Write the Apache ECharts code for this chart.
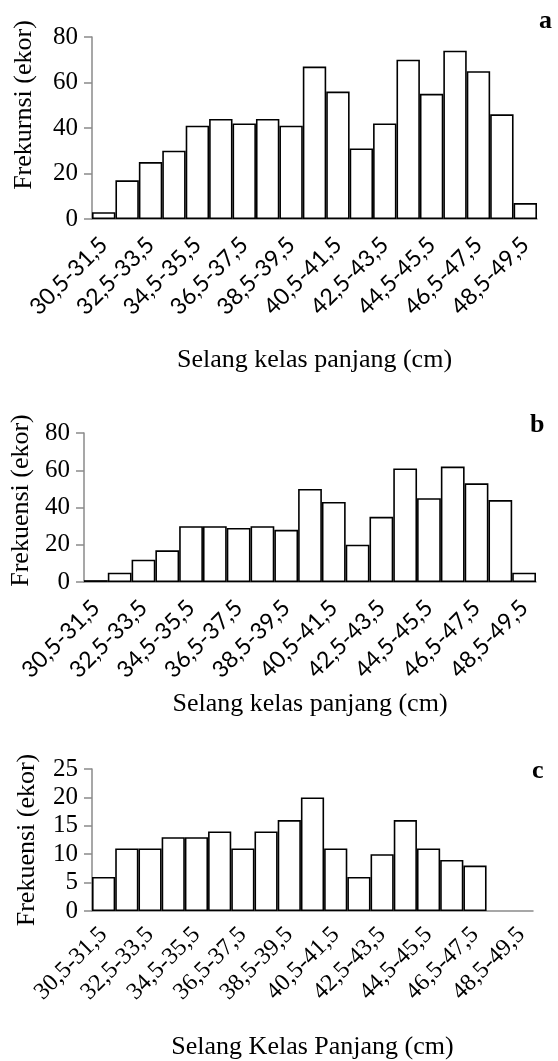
<!DOCTYPE html>
<html>
<head>
<meta charset="utf-8">
<script src="https://cdn.jsdelivr.net/npm/echarts@6/dist/echarts.min.js"></script>
<style>
  html, body { margin:0; padding:0; background:#fff; }
  #chart { width:558px; height:1061px; }
</style>
</head>
<body>
<div id="chart"></div>
<script>
// selang kelas panjang (cm)
const kelas = ['30,5-31,5','31,5-32,5','32,5-33,5','33,5-34,5','34,5-35,5','35,5-36,5','36,5-37,5',
  '37,5-38,5','38,5-39,5','39,5-40,5','40,5-41,5','41,5-42,5','42,5-43,5','43,5-44,5','44,5-45,5',
  '45,5-46,5','46,5-47,5','47,5-48,5','48,5-49,5'];
// frekuensi (ekor) tiap panel
const frekA = [3,17,25,30,41,44,42,44,41,67,56,31,42,70,55,74,65,46,7];
const frekB = [1,5,12,17,30,30,29,30,28,50,43,20,35,61,45,62,53,44,5];
const frekC = [6,11,11,13,13,14,11,14,16,20,11,6,10,16,11,9,8,null,null];
const namaY = ['Frekurnsi (ekor)', 'Frekuensi (ekor)', 'Frekuensi (ekor)'];
const namaX = ['Selang kelas panjang (cm)', 'Selang kelas panjang (cm)', 'Selang Kelas Panjang (cm)'];
const yMax = [80, 80, 25];
const yStep = [20, 20, 5];

const serif = 'Liberation Serif, Times New Roman, serif';
const grey = '#8a8a8a';

const grids = [
  {left:92, top:37, width:445, height:182},
  {left:84, top:433, width:452, height:149},
  {left:92, top:769, width:441, height:143}
];
const xLabelFont = [
  {fontFamily:'Lato, Liberation Sans, sans-serif', fontSize:23, margin:22},
  {fontFamily:'Lato, Liberation Sans, sans-serif', fontSize:23, margin:22},
  {fontFamily:serif, fontSize:24, margin:20}
];
const xNameGap = [128, 109, 123];
const yNameGap = [55, 48, 52];
const yNamePad = [[0,0,0,46],[0,0,0,14],[0,0,0,0]];
const data = [frekA, frekB, frekC];

const chart = echarts.init(document.getElementById('chart'));

chart.setOption({
  animation: false,
  backgroundColor: '#fff',
  title: [
    {text:'a', left:539, top:8},
    {text:'b', left:530, top:412},
    {text:'c', left:532, top:758}
  ].map(t => ({...t, padding:0, textStyle:{fontFamily:serif, fontWeight:'bold', fontSize:26, color:'#000'}})),
  grid: grids,
  xAxis: grids.map((g, i) => ({
    type:'category',
    gridIndex:i,
    data:kelas,
    name:namaX[i],
    nameLocation:'middle',
    nameGap:xNameGap[i],
    nameTextStyle:{fontFamily:serif, fontSize:26, color:'#000'},
    axisLine:{lineStyle:{color:grey, width:1.5}},
    axisTick:{show:false},
    axisLabel:{interval:1, rotate:45, color:'#000', ...xLabelFont[i]}
  })),
  yAxis: grids.map((g, i) => ({
    type:'value',
    gridIndex:i,
    min:0, max:yMax[i], interval:yStep[i],
    name:namaY[i],
    nameLocation:'middle',
    nameRotate:90,
    nameGap:yNameGap[i],
    nameTextStyle:{fontFamily:serif, fontSize:26, color:'#000', padding:yNamePad[i]},
    axisLine:{show:true, lineStyle:{color:grey, width:1.5}},
    axisTick:{show:true, length:8, lineStyle:{color:grey, width:1.5}},
    axisLabel:{fontFamily:serif, fontSize:25, color:'#000', margin:14},
    splitLine:{show:false}
  })),
  series: data.map((d, i) => ({
    type:'bar',
    xAxisIndex:i, yAxisIndex:i,
    data:d,
    barCategoryGap:'0%',
    itemStyle:{color:'#fff', borderColor:'#000', borderWidth:1.6}
  }))
});
</script>
</body>
</html>
